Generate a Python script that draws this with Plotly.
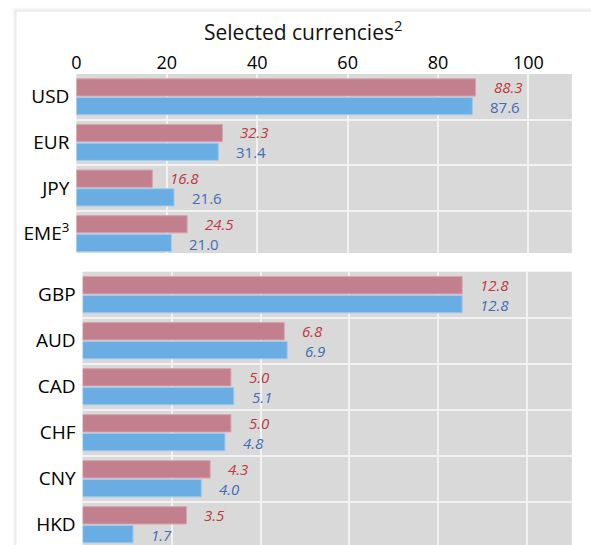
import plotly.graph_objects as go

W, H = 591, 545

top_cats = ["USD", "EUR", "JPY", "EME<sup>3</sup>"]
top_pink = [88.3, 32.3, 16.8, 24.5]
top_blue = [87.6, 31.4, 21.6, 21.0]
bot_cats = ["GBP", "AUD", "CAD", "CHF", "CNY", "HKD"]
bot_pink = [12.8, 6.8, 5.0, 5.0, 4.3, 3.5]
bot_blue = [12.8, 6.9, 5.1, 4.8, 4.0, 1.7]
top_ticks = [0, 20, 40, 60, 80, 100]

PINK = "#C27F8E"
PINK_LINE = "#D6A3AE"
BLUE = "#69ADE3"
BLUE_LINE = "#9FCBEE"
RED_TXT = "#C0383C"
BLUE_TXT = "#3E6DB5"
GRID = "#F2F2F2"
BG = "#D9D9D9"
FONT = "Open Sans"


def fx(p):
    return p / W


def fy(p):
    return 1 - p / H


fig = go.Figure()
fig.add_trace(go.Bar(y=top_cats, x=top_pink, orientation="h", xaxis="x", yaxis="y",
                     marker=dict(color=PINK, line=dict(color=PINK_LINE, width=1))))
fig.add_trace(go.Bar(y=top_cats, x=top_blue, orientation="h", xaxis="x", yaxis="y",
                     marker=dict(color=BLUE, line=dict(color=BLUE_LINE, width=1))))
fig.add_trace(go.Bar(y=bot_cats, x=bot_pink, orientation="h", xaxis="x2", yaxis="y2",
                     marker=dict(color=PINK, line=dict(color=PINK_LINE, width=1))))
fig.add_trace(go.Bar(y=bot_cats, x=bot_blue, orientation="h", xaxis="x2", yaxis="y2",
                     marker=dict(color=BLUE, line=dict(color=BLUE_LINE, width=1))))

ann = []
for cats, pinks, blues, xr, yr, blue_italic in [
    (top_cats, top_pink, top_blue, "x", "y", False),
    (bot_cats, bot_pink, bot_blue, "x2", "y2", True),
]:
    for c, p, b in zip(cats, pinks, blues):
        ann.append(dict(x=p, y=c, xref=xr, yref=yr, text=f"{p:.1f}", showarrow=False,
                        xanchor="left", yanchor="middle", xshift=16, yshift=10,
                        font=dict(family=FONT, size=15, color=RED_TXT, style="italic")))
        ann.append(dict(x=b, y=c, xref=xr, yref=yr, text=f"{b:.1f}", showarrow=False,
                        xanchor="left", yanchor="middle", xshift=16, yshift=-10,
                        font=dict(family=FONT, size=15, color=BLUE_TXT,
                                  style="italic" if blue_italic else "normal")))

ann.append(dict(x=fx(301), y=fy(30), xref="paper", yref="paper",
                text="Selected currencies<sup>2</sup>", showarrow=False,
                xanchor="center", yanchor="middle",
                font=dict(family=FONT, size=21, color="#111111")))

shapes = []
for off, col in [(3, "#FAFAFA"), (2, "#F4F4F4"), (1, "#EBEBEB")]:
    shapes.append(dict(type="rect", xref="paper", yref="paper", layer="below",
                       x0=fx(11 - off), y0=-0.1, x1=1.1, y1=fy(11 - off),
                       line=dict(color=col, width=1)))
shapes.append(dict(type="rect", xref="paper", yref="paper", layer="below",
                   x0=fx(11), y0=-0.1, x1=1.1, y1=fy(11),
                   line=dict(color="#E2E2E2", width=1)))

axis_common = dict(showgrid=True, gridcolor=GRID, gridwidth=1.5, zeroline=False,
                   ticks="", showline=False)

fig.update_layout(
    width=W, height=H,
    margin=dict(l=0, r=0, t=0, b=0),
    paper_bgcolor="white",
    plot_bgcolor=BG,
    showlegend=False,
    barmode="group",
    bargap=0.18,
    bargroupgap=0.08,
    font=dict(family=FONT, color="#000000"),
    xaxis=dict(domain=[fx(72), fx(571.7)], anchor="y", side="top", range=[0, 109.6],
               tickvals=top_ticks, tickfont=dict(size=18, color="#000000"), **axis_common),
    yaxis=dict(domain=[fy(253), fy(74)], anchor="x", type="category",
               categoryorder="array", categoryarray=top_cats, range=[3.425, -0.5],
               tickson="boundaries", tickfont=dict(size=19, color="#000000"),
               ticklabelstandoff=6, **axis_common),
    xaxis2=dict(domain=[fx(78.3), fx(571.7)], anchor="y2", range=[0, 16.5], dtick=3,
                showticklabels=False, **axis_common),
    yaxis2=dict(domain=[0, fy(271.7)], anchor="x2", type="category",
                categoryorder="array", categoryarray=bot_cats, range=[5.44, -0.5],
                tickson="boundaries", tickfont=dict(size=19, color="#000000"),
                ticklabelstandoff=6, **axis_common),
    annotations=ann,
    shapes=shapes,
)

fig.write_html("out.html", config={"displayModeBar": False},
               post_script="document.body.style.margin='0';document.body.style.overflow='hidden';")
